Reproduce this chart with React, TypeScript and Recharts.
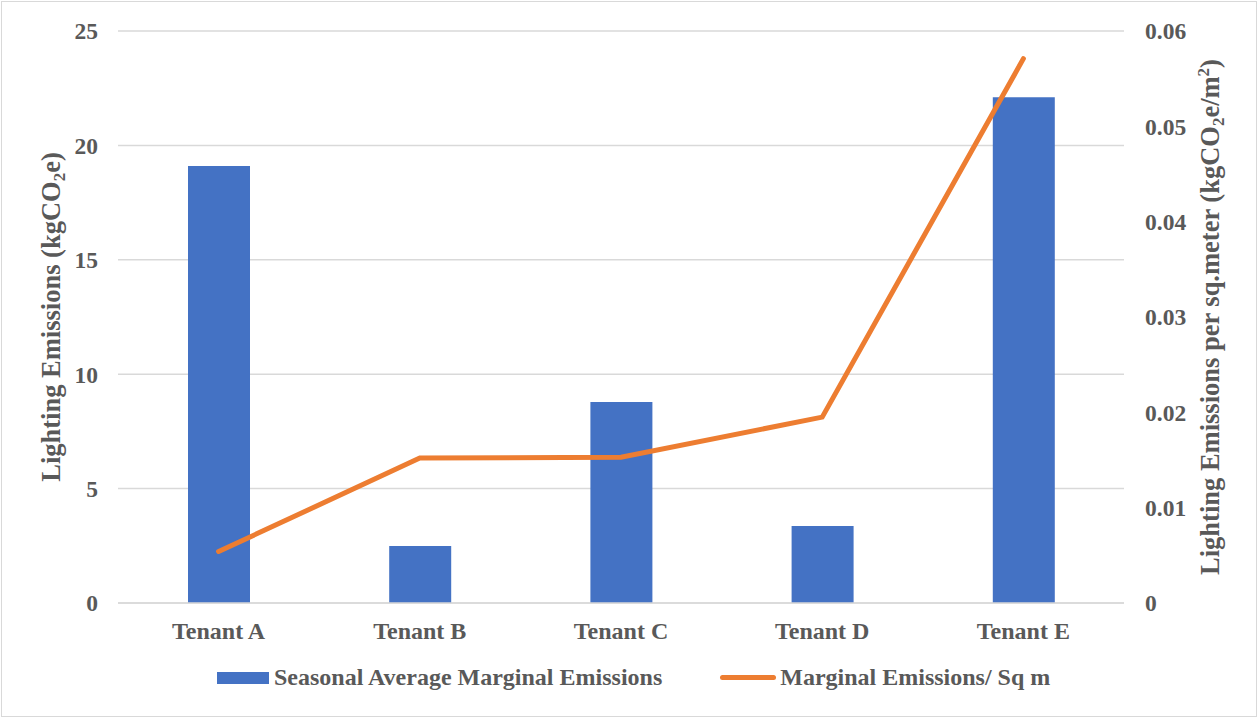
import { ComposedChart, Bar, Line, XAxis, YAxis, CartesianGrid, Legend } from 'recharts'

// tenants and the two measured series
const tenants = ['Tenant A', 'Tenant B', 'Tenant C', 'Tenant D', 'Tenant E']
const seasonalAvgEmissions = [19.1, 2.49, 8.78, 3.37, 22.1]
const emissionsPerSqm = [0.0054, 0.0152, 0.0153, 0.0195, 0.0571]

const leftTicks = [0, 5, 10, 15, 20, 25]
const rightTicks = [0, 0.01, 0.02, 0.03, 0.04, 0.05, 0.06]

const data = tenants.map((tenant, i) => ({
  tenant,
  seasonal: seasonalAvgEmissions[i],
  perSqm: emissionsPerSqm[i],
}))

const FONT = 'Liberation Serif, Times New Roman, serif'
const TEXT = '#595959'
const BLUE = '#4472C4'
const ORANGE = '#ED7D31'
const GRID = '#d9d9d9'

const tickStyle = { fontFamily: FONT, fontSize: 23.5, fontWeight: 700, fill: TEXT }
const xTickStyle = { ...tickStyle, fontSize: 24 }

function LeftTitle() {
  return (
    <text
      transform="translate(60,317) rotate(-90)"
      textAnchor="middle"
      style={{ fontFamily: FONT }}
      fontSize={26.5}
      fontWeight={700}
      fill={TEXT}
    >
      Lighting Emissions (kgCO
      <tspan fontSize={17} dy={5}>2</tspan>
      <tspan dy={-5}>e)</tspan>
    </text>
  )
}

function RightTitle() {
  return (
    <text
      transform="translate(1219,317) rotate(-90)"
      textAnchor="middle"
      style={{ fontFamily: FONT }}
      fontSize={26.5}
      fontWeight={700}
      fill={TEXT}
    >
      Lighting Emissions per sq.meter (kgCO
      <tspan fontSize={17} dy={5}>2</tspan>
      <tspan dy={-5}>e/m</tspan>
      <tspan fontSize={17} dy={-10}>2</tspan>
      <tspan dy={10}>)</tspan>
    </text>
  )
}

function LegendContent() {
  const label = { fontFamily: FONT, fontSize: 24, fontWeight: 700, color: TEXT }
  return (
    <div style={{ display: 'flex', alignItems: 'center', marginLeft: 217 }}>
      <div style={{ width: 52, height: 12, background: BLUE, marginRight: 5 }} />
      <span style={label}>Seasonal Average Marginal Emissions</span>
      <div
        style={{
          width: 56,
          height: 5,
          borderRadius: 3,
          background: ORANGE,
          marginLeft: 58,
          marginRight: 4,
        }}
      />
      <span style={label}>Marginal Emissions/ Sq m</span>
    </div>
  )
}

export default function App() {
  return (
    <div
      style={{
        position: 'absolute',
        left: 0,
        top: 0,
        width: 1258,
        height: 719,
        background: '#fff',
        fontFamily: FONT,
      }}
    >
      <div
        style={{
          position: 'absolute',
          left: 1,
          top: 1,
          width: 1256,
          height: 716,
          border: `1.5px solid ${GRID}`,
          boxSizing: 'border-box',
          pointerEvents: 'none',
        }}
      />
      <ComposedChart
        width={1258}
        height={719}
        data={data}
        margin={{ top: 31, right: 0, bottom: 39, left: 0 }}
        style={{ fontFamily: FONT }}
      >
        <CartesianGrid yAxisId="left" vertical={false} stroke={GRID} strokeWidth={1.5} />
        <XAxis
          dataKey="tenant"
          height={50}
          axisLine={{ stroke: GRID, strokeWidth: 1.5 }}
          tickLine={false}
          tickSize={0}
          tickMargin={19}
          tick={xTickStyle}
        />
        <YAxis
          yAxisId="left"
          orientation="left"
          width={118}
          domain={[0, 25]}
          ticks={leftTicks}
          axisLine={false}
          tickLine={false}
          tickSize={0}
          tickMargin={20}
          tick={tickStyle}
          label={{ content: () => <LeftTitle /> }}
        />
        <YAxis
          yAxisId="right"
          orientation="right"
          width={134}
          domain={[0, 0.06]}
          ticks={rightTicks}
          tickFormatter={(v: number) => (v === 0 ? '0' : v.toFixed(2))}
          axisLine={false}
          tickLine={false}
          tickSize={0}
          tickMargin={21}
          tick={tickStyle}
          label={{ content: () => <RightTitle /> }}
        />
        <Legend
          verticalAlign="bottom"
          wrapperStyle={{ left: 0, top: 664, width: 1258 }}
          content={() => <LegendContent />}
        />
        <Bar
          yAxisId="left"
          dataKey="seasonal"
          name="Seasonal Average Marginal Emissions"
          fill={BLUE}
          barSize={62}
          isAnimationActive={false}
        />
        <Line
          yAxisId="right"
          dataKey="perSqm"
          name="Marginal Emissions/ Sq m"
          type="linear"
          stroke={ORANGE}
          strokeWidth={5}
          strokeLinecap="round"
          dot={false}
          activeDot={false}
          isAnimationActive={false}
        />
      </ComposedChart>
    </div>
  )
}
